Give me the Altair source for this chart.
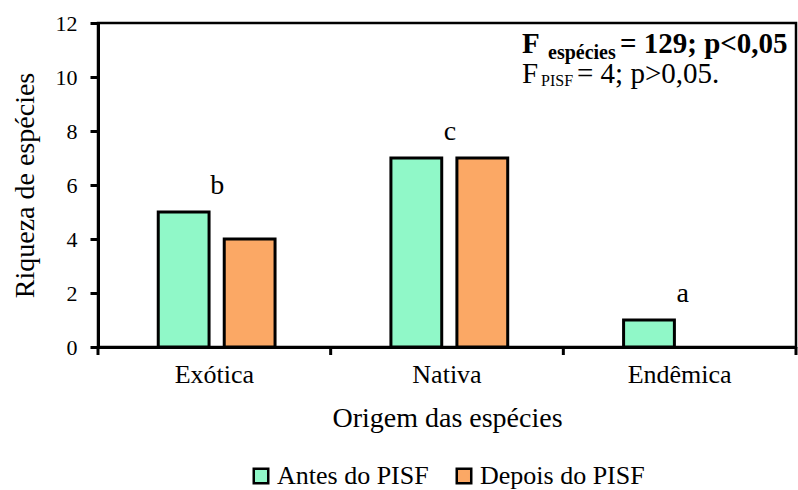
import altair as alt
import pandas as pd

# ---- data ----
categorias = ["Exótica", "Nativa", "Endêmica"]
periodos = ["Antes do PISF", "Depois do PISF"]
antes = [5, 7, 1]
depois = [4, 7, 0]
letras = ["b", "c", "a"]
cores = ["#90F8C8", "#FBA865"]
y_ticks = [0, 2, 4, 6, 8, 10, 12]

rows = []
for c, a, d in zip(categorias, antes, depois):
    rows.append({"origem": c, "periodo": periodos[0], "riqueza": a})
    rows.append({"origem": c, "periodo": periodos[1], "riqueza": d})
df = pd.DataFrame(rows)

letras_df = pd.DataFrame({
    "origem": categorias,
    "letra": letras,
    "topo": [max(a, d) for a, d in zip(antes, depois)],
})
ticks_df = pd.DataFrame({"origem": categorias})

FONT = "Liberation Serif"
W, H = 698, 324

xscale = alt.Scale(domain=categorias, paddingInner=0, paddingOuter=0)
yscale = alt.Scale(domain=[0, 12], nice=False)

bars = alt.Chart(df).transform_filter(
    alt.datum.riqueza > 0
).mark_bar(stroke="black", strokeWidth=3).encode(
    x=alt.X("origem:N", sort=categorias, scale=xscale,
            axis=alt.Axis(title="Origem das espécies", labelAngle=0, ticks=False,
                          labelPadding=14, titlePadding=17, domain=True,
                          domainColor="black", domainWidth=3)),
    xOffset=alt.XOffset("periodo:N", sort=periodos,
                        scale=alt.Scale(domain=periodos, paddingInner=0.23,
                                        paddingOuter=0.878, align=0.52)),
    y=alt.Y("riqueza:Q", scale=yscale,
            axis=alt.Axis(title="Riqueza de espécies", values=y_ticks, grid=False,
                          tickSize=8, tickWidth=3, tickColor="black",
                          labelPadding=13, titlePadding=16,
                          domainColor="black", domainWidth=3)),
    color=alt.Color("periodo:N", sort=periodos,
                    scale=alt.Scale(domain=periodos, range=cores),
                    legend=alt.Legend(title=None, orient="none", direction="horizontal",
                                      legendX=150, legendY=440,
                                      symbolType="square", symbolSize=210,
                                      symbolStrokeColor="black", symbolStrokeWidth=2.5,
                                      symbolOpacity=1, labelLimit=0,
                                      labelFont=FONT, labelFontSize=26, labelColor="black",
                                      labelOffset=3, columnPadding=22, padding=0)),
)

xticks = alt.Chart(ticks_df).mark_rule(color="black", strokeWidth=3).encode(
    x=alt.X("origem:N", sort=categorias, scale=xscale, bandPosition=0),
    y=alt.value(H),
    y2=alt.value(H + 8),
)
xtick_end = alt.Chart(ticks_df).transform_filter(
    alt.datum.origem == categorias[-1]
).mark_rule(color="black", strokeWidth=3).encode(
    x=alt.X("origem:N", sort=categorias, scale=xscale, bandPosition=1),
    y=alt.value(H),
    y2=alt.value(H + 8),
)

letters = alt.Chart(letras_df).transform_calculate(
    pos="datum.topo + 0.65"
).mark_text(font=FONT, fontSize=28, baseline="alphabetic", color="black", dx=3).encode(
    x=alt.X("origem:N", sort=categorias, scale=xscale),
    y=alt.Y("pos:Q", scale=yscale),
    text="letra:N",
)

one = pd.DataFrame({"k": [0]})


def txt(s, x, y, size, bold):
    return alt.Chart(one).mark_text(
        text=s, font=FONT, fontSize=size, fontWeight="bold" if bold else "normal",
        align="left", baseline="alphabetic", color="black"
    ).encode(x=alt.value(x), y=alt.value(y))


annot = [
    txt("F", 424, 30, 29, True),
    txt("espécies", 450, 36, 20, True),
    txt("= 129; p<0,05", 522, 30, 29, True),
    txt("F", 424, 60, 29, False),
    txt("PISF", 443, 63, 16, False),
    txt("= 4; p>0,05.", 479, 60, 29, False),
]

chart = alt.layer(bars, xticks, xtick_end, letters, *annot).properties(
    width=W, height=H,
    autosize=alt.AutoSizeParams(type="none"),
    padding={"left": 98, "top": 23, "right": 2, "bottom": 143},
).configure_view(
    stroke="black", strokeWidth=2.5
).configure_axis(
    labelFont=FONT, titleFont=FONT, labelColor="black", titleColor="black",
    titleFontWeight="normal",
).configure_axisY(
    labelFontSize=22, titleFontSize=28,
).configure_axisX(
    labelFontSize=26, titleFontSize=28,
)

chart.save("out.html", embed_options={"renderer": "svg", "actions": False})
